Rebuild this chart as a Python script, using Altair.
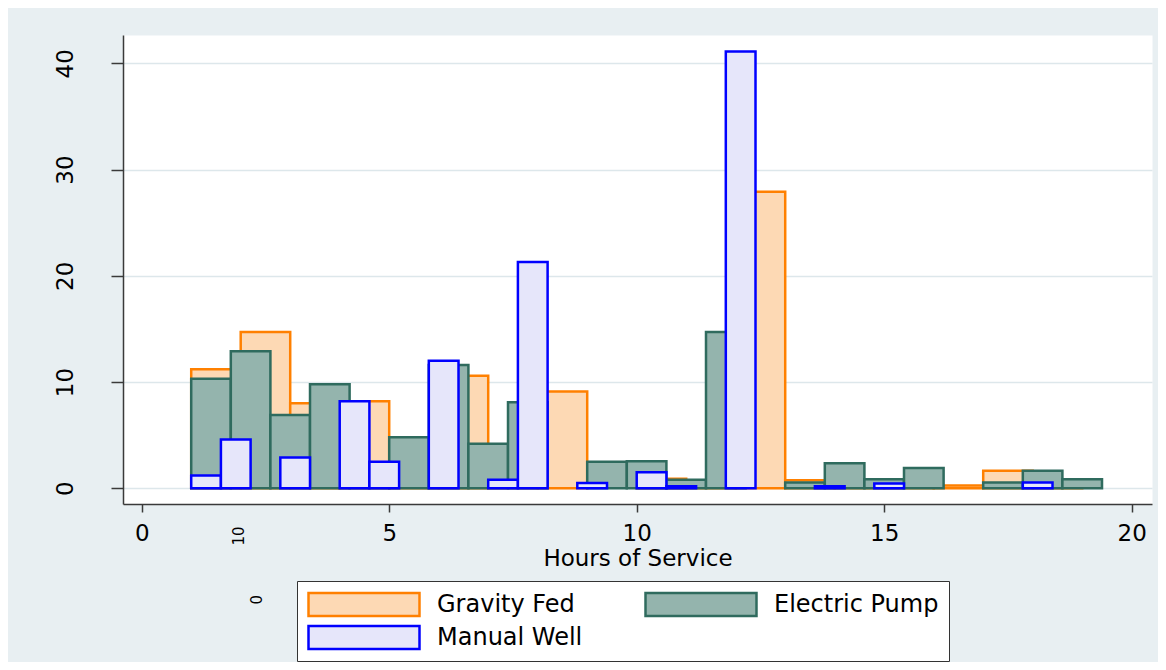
import altair as alt
import pandas as pd

series = ["Gravity Fed", "Electric Pump", "Manual Well"]

gravity_start = [1, 2, 3, 4, 5, 6, 7, 8, 9, 10, 11, 12, 13, 14, 15, 16, 17, 18]
gravity_width = 1.0
gravity_pct = [11.2, 14.7, 8.0, 8.2, 2.5, 10.6, 2.0, 9.1, 0.0, 0.9, 0.4, 27.9,
               0.75, 0.4, 0.3, 0.25, 1.65, 0.3]

electric_start = [1.0, 1.8, 2.6, 3.4, 4.2, 5.0, 5.8, 6.6, 7.4, 8.2, 9.0, 9.8,
                  10.6, 11.4, 12.2, 13.0, 13.8, 14.6, 15.4, 16.2, 17.0, 17.8, 18.6]
electric_width = 0.8
electric_pct = [10.3, 12.9, 6.9, 9.8, 0.5, 4.8, 11.6, 4.2, 8.1, 0.0, 2.5, 2.55,
                0.8, 14.7, 0.0, 0.55, 2.35, 0.85, 1.9, 0.0, 0.55, 1.65, 0.85]

manual_start = [1.0, 1.6, 2.2, 2.8, 3.4, 4.0, 4.6, 5.2, 5.8, 6.4, 7.0, 7.6, 8.2,
                8.8, 9.4, 10.0, 10.6, 11.2, 11.8, 12.4, 13.0, 13.6, 14.2, 14.8,
                15.4, 16.0, 16.6, 17.2, 17.8]
manual_width = 0.6
manual_pct = [1.2, 4.6, 0.0, 2.9, 0.0, 8.2, 2.5, 0.0, 12.0, 0.0, 0.8, 21.3, 0.0,
              0.5, 0.0, 1.5, 0.2, 0.0, 41.1, 0.0, 0.0, 0.2, 0.0, 0.45, 0.0, 0.0,
              0.0, 0.0, 0.55]

x_ticks = [0, 5, 10, 15, 20]
y_ticks = [0, 10, 20, 30, 40]

# stray rotated labels visible below the plot in the reference
stray_text = ["10", "0"]
stray_x = [1.956, 2.33]
stray_y = [-4.49, -10.5]

fill_colors = ["#fdd9b4", "#94b4ad", "#e6e6fa"]
stroke_colors = ["#ff8000", "#2f6b5e", "#0000ff"]

# ---- build table ----
rows = []
for name, starts, width, pcts in [
    ("Gravity Fed", gravity_start, gravity_width, gravity_pct),
    ("Electric Pump", electric_start, electric_width, electric_pct),
    ("Manual Well", manual_start, manual_width, manual_pct),
]:
    for s, p in zip(starts, pcts):
        rows.append({"series": name, "start": s, "end": s + width, "pct": p, "base": 0.0})
df = pd.DataFrame(rows)
ann = pd.DataFrame({"x": stray_x, "y": stray_y, "text": stray_text})

FONT = "DejaVu Sans"

x_scale = alt.Scale(domain=[-0.378, 20.41], nice=False, zero=False)
y_scale = alt.Scale(domain=[-1.48, 42.66], nice=False, zero=False)

x_axis = alt.Axis(values=x_ticks, grid=False, title="Hours of Service",
                  tickSize=8, labelPadding=10, titlePadding=2,
                  labelFontSize=23, titleFontSize=23, labelFont=FONT, titleFont=FONT,
                  titleFontWeight="normal", labelColor="black", titleColor="black",
                  domainColor="#3a3a3a", tickColor="#3a3a3a", domainWidth=1.5, tickWidth=1.5,
                  labelFlush=False)
y_axis = alt.Axis(values=y_ticks, grid=True, title=None, tickSize=12, labelPadding=34,
                  labelAngle=270, labelAlign="center", labelBaseline="bottom",
                  labelFontSize=23, labelFont=FONT, labelColor="black",
                  gridColor="#dde7eb", gridWidth=1.5,
                  domainColor="#3a3a3a", tickColor="#3a3a3a", domainWidth=1.5, tickWidth=1.5,
                  labelFlush=False)

# wide flat swatch: small symbol size (keeps rows compact), wide path in unit coords
legend = alt.Legend(
    title=None, orient="none", legendX=174, legendY=546, columns=2, direction="horizontal",
    symbolType="M-4.826,-1L4.826,-1L4.826,1L-4.826,1Z", symbolSize=529,
    symbolOffset=44, symbolStrokeWidth=2.5,
    labelFontSize=24, labelFont=FONT, labelColor="black",
    labelOffset=60, labelLimit=500, columnPadding=61, rowPadding=6, padding=10,
    clipHeight=27,
    strokeColor="#333333", fillColor="white",
)

fill_scale = alt.Scale(domain=series, range=fill_colors)
stroke_scale = alt.Scale(domain=series, range=stroke_colors)


def bars(name):
    return (
        alt.Chart(df)
        .transform_filter(alt.datum.series == name)
        .transform_filter(alt.datum.pct > 0)
        .mark_rect(strokeWidth=2.5)
        .encode(
            x=alt.X("start:Q", scale=x_scale, axis=x_axis),
            x2=alt.X2("end:Q"),
            y=alt.Y("pct:Q", scale=y_scale, axis=y_axis),
            y2=alt.Y2("base:Q"),
            fill=alt.Fill("series:N", scale=fill_scale, legend=legend, title=None),
            stroke=alt.Stroke("series:N", scale=stroke_scale, legend=legend, title=None),
        )
    )


text_layer = (
    alt.Chart(ann)
    .mark_text(angle=270, fontSize=15, font=FONT, color="black", align="center", baseline="middle")
    .encode(
        x=alt.X("x:Q", scale=x_scale, axis=x_axis),
        y=alt.Y("y:Q", scale=y_scale, axis=y_axis),
        text="text:N",
    )
)

chart = (
    alt.layer(bars("Gravity Fed"), bars("Electric Pump"), bars("Manual Well"), text_layer)
    .properties(
        width=1029,
        height=469,
        autosize=alt.AutoSizeParams(type="none"),
        padding={"left": 115, "top": 27, "right": 6, "bottom": 158},
        background="#e8eff2",
    )
    .configure_view(fill="white", stroke="transparent")
)

chart.save("out.html", embed_options={"renderer": "svg", "actions": False})
